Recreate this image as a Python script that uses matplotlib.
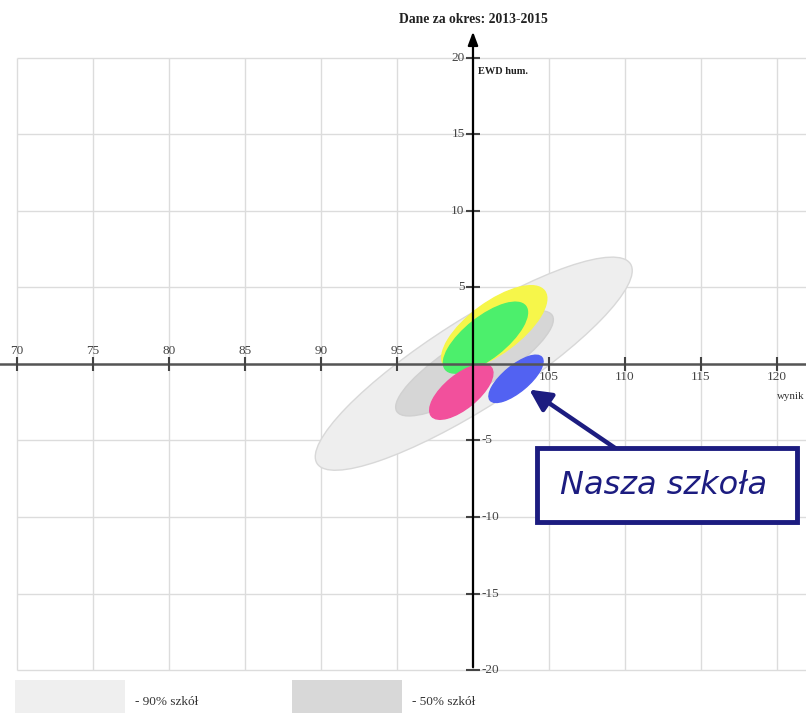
import matplotlib.pyplot as plt
from matplotlib.patches import Ellipse, Rectangle

# axis ticks
x_ticks = [70, 75, 80, 85, 90, 95, 100, 105, 110, 115, 120]
y_ticks = [-20, -15, -10, -5, 5, 10, 15, 20]

# ellipses: 90% schools, 50% schools, and the school groups
ell_names = ['90%', '50%', 'yellow', 'green', 'pink', 'nasza']
ell_cx = [100.05, 100.1, 101.4, 100.82, 99.23, 102.83]
ell_cy = [0.02, 0.04, 2.35, 1.72, -1.81, -0.97]
ell_w = [24.4, 12.0, 8.2, 6.7, 5.05, 4.4]
ell_h = [5.8, 3.3, 3.35, 2.7, 2.2, 1.7]
ell_ang = [32.3, 31.5, 36.1, 38, 39, 39.5]
ell_fc = ['#eeeeee', '#d6d6d6', '#f6f64a', '#4cef6c', '#f2509c', '#5262f2']
ell_ec = ['#d8d8d8', '#d0d0d0', '#f6f64a', '#4cef6c', '#f2509c', '#5262f2']

legend_labels = ['- 90% szkół', '- 50% szkół']

serif = 'Liberation Serif'

fig = plt.figure(figsize=(8.06, 7.13), dpi=100)
ax = fig.add_axes([0, 0, 1, 1])
ax.set_xlim(68.88, 121.91)
ax.set_ylim(-22.81, 23.79)
ax.axis('off')

# grid
ax.vlines(x_ticks, -20, 20, color='#dcdcdc', lw=1, zorder=0)
ax.hlines([-20, -15, -10, -5, 0, 5, 10, 15, 20], 70, 121.91, color='#dcdcdc', lw=1, zorder=0)

for cx, cy, w, h, a, fc, ec in zip(ell_cx, ell_cy, ell_w, ell_h, ell_ang, ell_fc, ell_ec):
    ax.add_patch(Ellipse((cx, cy), w, h, angle=a, facecolor=fc, edgecolor=ec, lw=1, zorder=2))

# x axis
ax.axhline(0, color='#555555', lw=1.8, zorder=3)
for x in x_ticks:
    if x == 100:
        continue
    ax.vlines(x, -0.45, 0.45, color='#444444', lw=1.5, zorder=3)
    if x < 100:
        ax.text(x, 0.45, str(x), ha='center', va='bottom', fontsize=9.5,
                family=serif, color='#444444')
    else:
        ax.text(x, -0.45, str(x), ha='center', va='top', fontsize=9.5,
                family=serif, color='#444444')
ax.text(121.85, -1.85, 'wynik', ha='right', va='top', fontsize=7.8, family=serif,
        color='#333333')

# y axis with arrow
ax.annotate('', xy=(100, 21.9), xytext=(100, -20),
            arrowprops=dict(arrowstyle='-|>,head_length=0.8,head_width=0.3',
                            color='black', lw=1.6), zorder=4)
for y in y_ticks:
    ax.hlines(y, 99.55, 100.45, color='#444444', lw=1.5, zorder=3)
    if y > 0:
        ax.text(99.45, y, str(y), ha='right', va='center', fontsize=9.5,
                family=serif, color='#444444')
    else:
        ax.text(100.55, y, str(y), ha='left', va='center', fontsize=9.5,
                family=serif, color='#444444')

ax.text(100.33, 19.1, 'EWD hum.', ha='left', va='center', fontsize=7.5,
        family=serif, weight='bold', color='#222222')
ax.text(100, 22.5, 'Dane za okres: 2013-2015', ha='center', va='center',
        fontsize=9.8, family=serif, weight='bold', color='#222222')

# legend
for i, (lab, fc) in enumerate(zip(legend_labels, ['#efefef', '#d8d8d8'])):
    x0 = [15, 292][i]
    fig.patches.append(Rectangle((x0 / 806, 0), 110 / 806, 33 / 713,
                                 transform=fig.transFigure, facecolor=fc,
                                 edgecolor='none'))
    fig.text((x0 + 120) / 806, 1 - 702 / 713, lab, ha='left', va='center',
             fontsize=9.5, family=serif, color='#333333')

# callout
ax.annotate('', xy=(103.55, -1.57), xytext=(111.18, -6.73),
            arrowprops=dict(arrowstyle='-|>,head_length=1.3,head_width=0.65',
                            color='#1c1c80', lw=3.2), zorder=5)
ax.add_patch(Rectangle((540 / 806, 1 - 525 / 713), 260 / 806, 74 / 713,
                       transform=ax.transAxes, facecolor='#9a9aa8',
                       edgecolor='none', alpha=0.5, zorder=5))
ax.add_patch(Rectangle((537 / 806, 1 - 522 / 713), 260 / 806, 74 / 713,
                       transform=ax.transAxes, facecolor='white',
                       edgecolor='#1c1c80', lw=3.5, zorder=6))
ax.text(664 / 806, 1 - 485 / 713, 'Nasza szkoła', transform=ax.transAxes,
        ha='center', va='center', fontsize=23, style='italic',
        color='#1c1c80', zorder=7)

fig.savefig('out.png', dpi=100)
